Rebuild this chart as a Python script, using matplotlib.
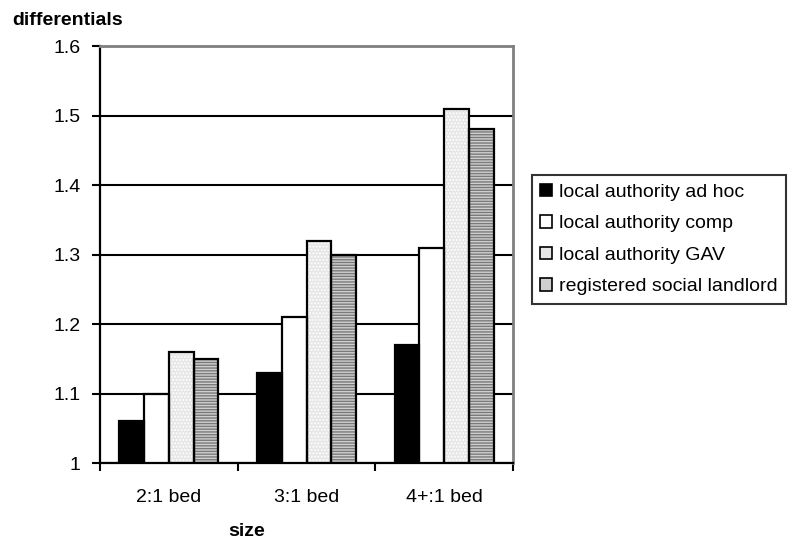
import matplotlib.pyplot as plt
import numpy as np
from matplotlib.patches import Patch

# data
categories = ["2:1 bed", "3:1 bed", "4+:1 bed"]
series_names = ["local authority ad hoc", "local authority comp",
                "local authority GAV", "registered social landlord"]
ad_hoc = [1.06, 1.13, 1.17]
comp = [1.10, 1.21, 1.31]
gav = [1.16, 1.32, 1.51]
rsl = [1.15, 1.30, 1.48]
y_ticks = [1, 1.1, 1.2, 1.3, 1.4, 1.5, 1.6]

plt.rcParams["font.family"] = ["Liberation Sans", "DejaVu Sans"]
plt.rcParams["hatch.linewidth"] = 1.0
fs = 14

fig = plt.figure(figsize=(7.88, 5.48), dpi=100)
ax = fig.add_axes([0.127, 0.155, 0.524, 0.761])

# fill, hatch, hatch colour for each series
styles = [
    ("black", None, None),
    ("white", None, None),
    ("#e6e6e6", ".....", "white"),
    ("#cfcfcf", "------", "#7a7a7a"),
]

all_values = [ad_hoc, comp, gav, rsl]
x = np.arange(len(categories))
width = 0.18
handles = []
for i, vals in enumerate(all_values):
    fill, hatch, hcol = styles[i]
    pos = x + (i - 1.5) * width
    # base fill with hatching
    ax.bar(pos, np.array(vals) - 1, width, bottom=1, color=fill,
           hatch=hatch, edgecolor=hcol if hcol else fill, linewidth=0, zorder=3)
    # black outline
    ax.bar(pos, np.array(vals) - 1, width, bottom=1, fill=False,
           edgecolor="black", linewidth=1.6, zorder=4)
    handles.append(Patch(facecolor=fill, edgecolor="black", linewidth=1.2,
                         label=series_names[i]))

ax.set_xlim(-0.5, 2.5)
ax.set_ylim(1, 1.6)
ax.set_yticks(y_ticks)
ax.set_yticklabels(["1", "1.1", "1.2", "1.3", "1.4", "1.5", "1.6"], fontsize=fs)
ax.set_xticks(x)
ax.set_xticklabels(categories, fontsize=fs)
ax.set_xticks([-0.5, 0.5, 1.5, 2.5], minor=True)
ax.tick_params(axis="x", which="major", length=0, pad=19)
ax.tick_params(axis="x", which="minor", length=6, width=1.5, direction="out")
ax.tick_params(axis="y", length=6, width=1.5, direction="out", pad=8)

ax.grid(axis="y", color="black", linewidth=1.5, zorder=0)
ax.set_axisbelow(True)
for s in ["left", "bottom"]:
    ax.spines[s].set_color("black")
    ax.spines[s].set_linewidth(1.6)
for s in ["top", "right"]:
    ax.spines[s].set_color("#808080")
    ax.spines[s].set_linewidth(2)

fig.text(0.015, 0.9635, "differentials", fontsize=fs, fontweight="bold",
         ha="left", va="center")
fig.text(0.313, 0.031, "size", fontsize=fs, fontweight="bold",
         ha="center", va="center")

leg = fig.legend(handles=handles, loc="center left",
                 bbox_to_anchor=(0.675, 0.563), fontsize=fs,
                 frameon=True, fancybox=False, handlelength=0.6,
                 handleheight=0.6, handletextpad=0.38, labelspacing=0.75,
                 borderpad=0.42, borderaxespad=0)
leg.get_frame().set_edgecolor("black")
leg.get_frame().set_linewidth(1.5)

fig.savefig("out.png", dpi=100)
